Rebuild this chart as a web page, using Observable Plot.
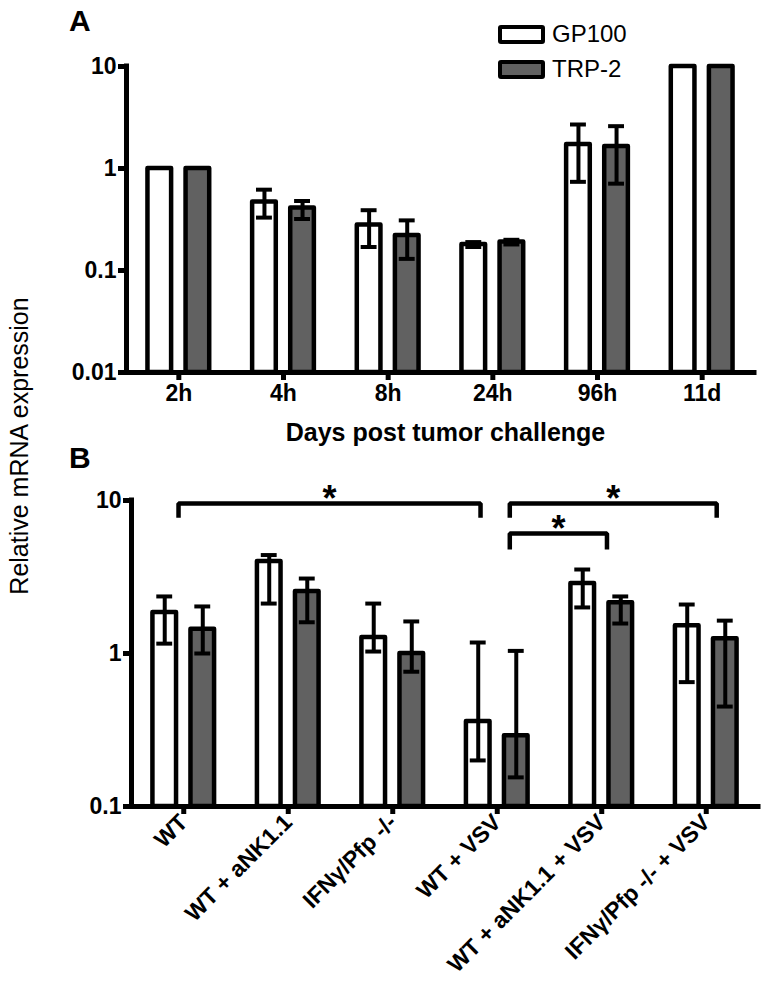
<!DOCTYPE html>
<html>
<head>
<meta charset="utf-8">
<script src="https://cdn.jsdelivr.net/npm/d3@7"></script>
<script src="https://cdn.jsdelivr.net/npm/@observablehq/plot@0.6"></script>
<style>
  body { margin: 0; background: #fff; }
  #wrap { position: relative; width: 766px; height: 993px; overflow: hidden;
          font-family: "Liberation Sans", Arial, Helvetica, sans-serif; color: #000; }
  #wrap svg { position: absolute; left: 0; overflow: visible; }
  .panel-letter { position: absolute; font-weight: bold; font-size: 30px; line-height: 1; }
  .ylab { position: absolute; font-size: 25px; white-space: nowrap; line-height: 1;
          transform: translate(-50%, -50%) rotate(-90deg); }
  .leg-row { position: absolute; display: flex; align-items: center; font-size: 24px; line-height: 1; }
  .swatch { width: 47px; height: 19px; box-sizing: border-box; border: 4.5px solid #000;
            border-radius: 3px; margin-right: 7px; }
</style>
</head>
<body>
<div id="wrap"></div>
<script>
// ---------------- data ----------------
const seriesNames = ["GP100", "TRP-2"];

// Panel A
const timepoints = ["2h", "4h", "8h", "24h", "96h", "11d"];
const gp100A    = [1.0, 0.47, 0.28, 0.18, 1.72, 10];
const gp100A_lo = [null, 0.33, 0.17, 0.17, 0.74, null];
const gp100A_hi = [null, 0.62, 0.39, 0.19, 2.70, null];
const trp2A     = [1.0, 0.41, 0.22, 0.19, 1.64, 10];
const trp2A_lo  = [null, 0.32, 0.13, 0.18, 0.71, null];
const trp2A_hi  = [null, 0.48, 0.31, 0.20, 2.60, null];
const yTicksA = [0.01, 0.1, 1, 10];

// Panel B
const groupsB = ["WT", "WT + aNK1.1", "IFNγ/Pfp -/-", "WT + VSV", "WT + aNK1.1 + VSV", "IFNγ/Pfp -/- + VSV"];
const gp100B    = [1.85, 3.99, 1.27, 0.36, 2.87, 1.52];
const gp100B_lo = [1.16, 2.12, 1.03, 0.20, 2.00, 0.65];
const gp100B_hi = [2.36, 4.40, 2.12, 1.18, 3.54, 2.09];
const trp2B     = [1.44, 2.54, 1.00, 0.29, 2.15, 1.25];
const trp2B_lo  = [1.00, 1.60, 0.76, 0.155, 1.57, 0.45];
const trp2B_hi  = [2.03, 3.09, 1.62, 1.04, 2.36, 1.64];
const yTicksB = [0.1, 1, 10];

// significance brackets (panel B)
const brackets = [
  {from: "WT", to: "WT + VSV", top: 9.55, leg: 7.7, label: "*"},
  {from: "WT + VSV", to: "IFNγ/Pfp -/- + VSV", top: 9.55, leg: 7.7, label: "*"},
  {from: "WT + VSV", to: "WT + aNK1.1 + VSV", top: 6.08, leg: 4.78, label: "*"}
];

// ---------------- layout ----------------
const W = 766;
const FONT = "'Liberation Sans', Arial, Helvetica, sans-serif";
const OFF = 0.182, HW = 0.113, CAP = 0.076;
const bracketNudge = [[-0.05, -0.16], [0.12, 0.10], [0.12, 0.05]];
const fills = {"GP100": "#ffffff", "TRP-2": "#616161"};

function rowsFor(cats, gv, glo, ghi, tv, tlo, thi) {
  return cats.flatMap((c, i) => [
    {cat: c, i, series: seriesNames[0], v: gv[i], lo: glo[i], hi: ghi[i]},
    {cat: c, i, series: seriesNames[1], v: tv[i], lo: tlo[i], hi: thi[i]}
  ]);
}
const pos = d => d.i + 0.5 + (d.series === seriesNames[0] ? -OFF : OFF);

function panel({cats, rows, yDomain, yTicks, height, mt, mb, ml, mr, tickRotate = 0, xFont = 23, extras = []}) {
  const withErr = rows.filter(d => d.lo != null);
  const centers = cats.map((c, i) => i + 0.5);
  return Plot.plot({
    width: W, height,
    marginTop: mt, marginBottom: mb, marginLeft: ml, marginRight: mr,
    style: {fontFamily: FONT, fontSize: "23px", fontWeight: "bold", color: "#000", background: "transparent", overflow: "visible"},
    x: {domain: [0, cats.length], axis: null},
    y: {type: "log", domain: yDomain, axis: null},
    marks: [
      Plot.rect(rows, {
        x1: d => pos(d) - HW, x2: d => pos(d) + HW,
        y1: yDomain[0], y2: "v",
        fill: d => fills[d.series], stroke: "#000", strokeWidth: 4.5, strokeLinejoin: "round"
      }),
      Plot.ruleX(withErr, {x: pos, y1: "lo", y2: "hi", stroke: "#000", strokeWidth: 4}),
      Plot.ruleY(withErr, {y: "hi", x1: d => pos(d) - CAP, x2: d => pos(d) + CAP, stroke: "#000", strokeWidth: 4}),
      Plot.ruleY(withErr, {y: "lo", x1: d => pos(d) - CAP, x2: d => pos(d) + CAP, stroke: "#000", strokeWidth: 4}),
      Plot.ruleX([0], {stroke: "#000", strokeWidth: 5, strokeLinecap: "square"}),
      Plot.ruleY([yDomain[0]], {stroke: "#000", strokeWidth: 5, strokeLinecap: "square"}),
      Plot.axisY({ticks: yTicks, tickFormat: d => String(d), tickSize: 8, tickPadding: 2,
                  strokeWidth: 5, label: null, fontSize: 23, fontWeight: "bold"}),
      Plot.axisX({ticks: centers, tickFormat: d => cats[Math.round(d - 0.5)], tickSize: 8,
                  tickPadding: 4, strokeWidth: 5, tickRotate, label: null, fontSize: xFont, fontWeight: "bold"}),
      ...extras
    ]
  });
}

const wrap = document.getElementById("wrap");

// Panel A
const rowsA = rowsFor(timepoints, gp100A, gp100A_lo, gp100A_hi, trp2A, trp2A_lo, trp2A_hi);
const svgA = panel({
  cats: timepoints, rows: rowsA, yDomain: [0.01, 10], yTicks: yTicksA,
  height: 460, mt: 66, mb: 88, ml: 126, mr: 12,
  extras: [
    Plot.text(["Days post tumor challenge"], {text: d => d, frameAnchor: "bottom", dy: 68, dx: 5,
      fontSize: 25, fontWeight: "bold"})
  ]
});
svgA.style.top = "0px";
wrap.appendChild(svgA);

// Panel B
const rowsB = rowsFor(groupsB, gp100B, gp100B_lo, gp100B_hi, trp2B, trp2B_lo, trp2B_hi);
const bx = (b, k) => groupsB.indexOf(k === 0 ? b.from : b.to) + 0.5 + bracketNudge[brackets.indexOf(b)][k];
const bracketPts = brackets.flatMap((b, j) => [
  {j, x: bx(b, 0), y: b.leg}, {j, x: bx(b, 0), y: b.top},
  {j, x: bx(b, 1), y: b.top}, {j, x: bx(b, 1), y: b.leg}
]);
const svgB = panel({
  cats: groupsB, rows: rowsB, yDomain: [0.1, 10], yTicks: yTicksB,
  height: 533, mt: 40, mb: 187, ml: 131, mr: 8, tickRotate: -45, xFont: 23,
  extras: [
    Plot.line(bracketPts, {x: "x", y: "y", z: "j", stroke: "#000", strokeWidth: 4.5, strokeLinejoin: "miter", strokeLinecap: "butt"}),
    Plot.text(brackets, {x: b => (bx(b, 0) + bx(b, 1)) / 2, y: "top", text: "label", dy: -4,
      fontSize: 36, fontWeight: "bold"})
  ]
});
svgB.style.top = "460px";
wrap.appendChild(svgB);

// Panel letters
const la = document.createElement("div");
la.className = "panel-letter"; la.textContent = "A";
la.style.left = "69px"; la.style.top = "6px";
wrap.appendChild(la);
const lb = document.createElement("div");
lb.className = "panel-letter"; lb.textContent = "B";
lb.style.left = "69px"; lb.style.top = "443px";
wrap.appendChild(lb);

// Shared y label
const yl = document.createElement("div");
yl.className = "ylab"; yl.textContent = "Relative mRNA expression";
yl.style.left = "19px"; yl.style.top = "446px";
wrap.appendChild(yl);

// Legend
seriesNames.forEach((s, k) => {
  const row = document.createElement("div");
  row.className = "leg-row";
  row.style.left = "498px";
  row.style.top = (k === 0 ? 22 : 57) + "px";
  const sw = document.createElement("div");
  sw.className = "swatch"; sw.style.background = fills[s];
  const tx = document.createElement("span");
  tx.textContent = s;
  row.appendChild(sw); row.appendChild(tx);
  wrap.appendChild(row);
});
</script>
</body>
</html>
